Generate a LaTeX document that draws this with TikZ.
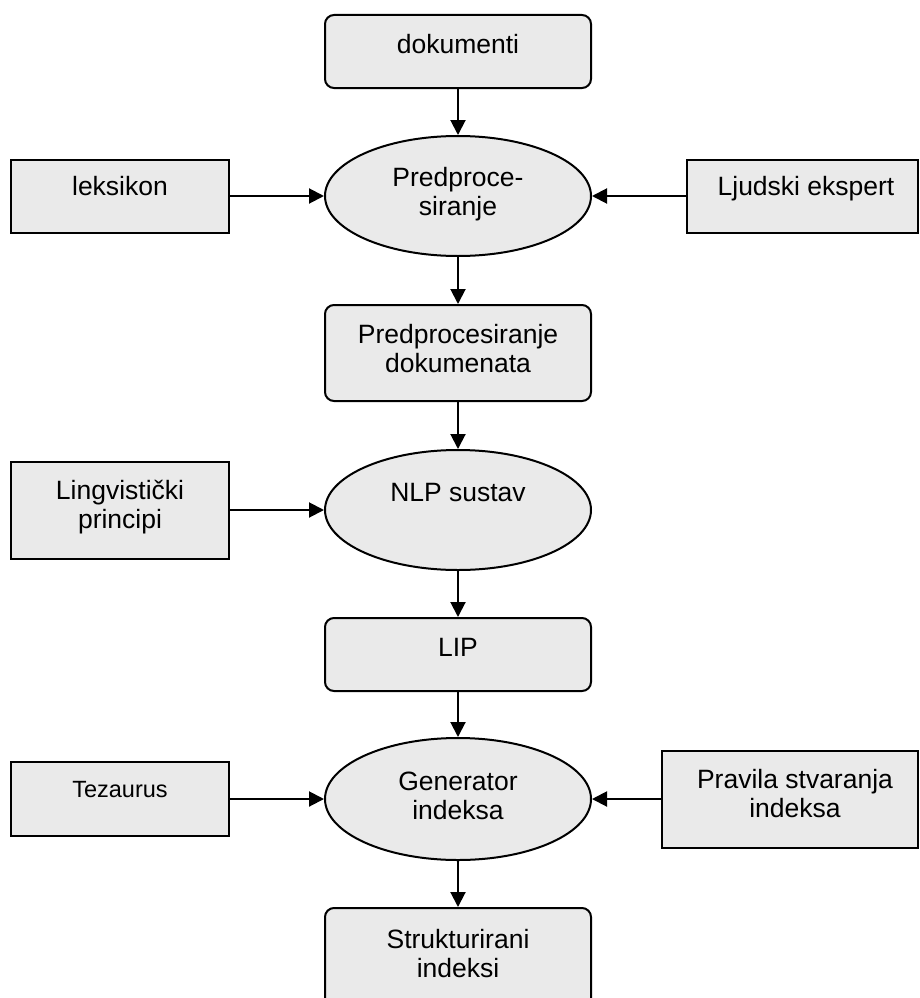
\documentclass[tikz,border=0pt]{standalone}
\usepackage{fontspec}
\setmainfont{Liberation Sans}
\usetikzlibrary{shapes.geometric,arrows.meta}
\definecolor{boxfill}{RGB}{234,234,234}
\newcommand\twolines[2]{\parbox[t]{300pt}{\centering #1\\#2}}
\begin{document}
\begin{tikzpicture}[x=1pt,y=-1pt,
  base/.style={draw=black,line width=2pt,fill=boxfill,inner sep=0pt},
  roundbox/.style={base,rectangle,rounded corners=9pt},
  sharpbox/.style={base,rectangle},
  oval/.style={base,ellipse},
  lbl/.style={anchor=base,inner sep=0pt,font={\fontsize{26.5}{29.5}\selectfont}},
  smalllbl/.style={lbl,font={\fontsize{23.5}{27}\selectfont}},
  flow/.style={line width=2pt,-{Triangle[length=15pt,width=15pt]}}]
\clip (0,0) rectangle (919,998);

% main column
\node[roundbox,minimum width=266pt,minimum height=73pt] (dok) at (458,51.5) {};
\node[oval,minimum width=266pt,minimum height=120pt] (pre) at (458,196) {};
\node[roundbox,minimum width=266pt,minimum height=96pt] (ppd) at (458,353) {};
\node[oval,minimum width=266pt,minimum height=120pt] (nlp) at (458,510) {};
\node[roundbox,minimum width=266pt,minimum height=73pt] (lip) at (458,654.5) {};
\node[oval,minimum width=266pt,minimum height=122pt] (gen) at (458,799) {};
\node[roundbox,minimum width=266pt,minimum height=110pt] (str) at (458,963) {};

% side inputs
\node[sharpbox,minimum width=218pt,minimum height=73pt] (lek) at (120,196) {};
\node[sharpbox,minimum width=231pt,minimum height=73pt] (lju) at (802.5,196) {};
\node[sharpbox,minimum width=218pt,minimum height=97pt] (ling) at (120,510) {};
\node[sharpbox,minimum width=218pt,minimum height=74pt] (tez) at (120,799) {};
\node[sharpbox,minimum width=256pt,minimum height=97pt] (pra) at (790,799) {};

% labels
\node[lbl] (dokT) at (458,53) {dokumenti};
\node[lbl] (preT) at (458,186) {\twolines{Predproce-}{siranje}};
\node[lbl] (ppdT) at (458,343) {\twolines{Predprocesiranje}{dokumenata}};
\node[lbl] (nlpT) at (458,501) {NLP sustav};
\node[lbl] (lipT) at (458,656) {LIP};
\node[lbl] (genT) at (458,790) {\twolines{Generator}{indeksa}};
\node[lbl] (strT) at (458,948) {\twolines{Strukturirani}{indeksi}};
\node[lbl] (lekT) at (120,195) {leksikon};
\node[lbl] (ljuT) at (806,195) {Ljudski ekspert};
\node[lbl] (lingT) at (120,499) {\twolines{Lingvistički}{principi}};
\node[smalllbl] (tezT) at (120,797) {Tezaurus};
\node[lbl] (praT) at (795,788) {\twolines{Pravila stvaranja}{indeksa}};

% connectors
\draw[flow] (dok) -- (pre);
\draw[flow] (pre) -- (ppd);
\draw[flow] (ppd) -- (nlp);
\draw[flow] (nlp) -- (lip);
\draw[flow] (lip) -- (gen);
\draw[flow] (gen) -- (str);
\draw[flow] (lek.east) -- (pre.west);
\draw[flow] (lju.west) -- (pre.east);
\draw[flow] (ling.east) -- (nlp.west);
\draw[flow] (tez.east) -- (gen.west);
\draw[flow] (pra.west) -- (gen.east);
\end{tikzpicture}
\end{document}
